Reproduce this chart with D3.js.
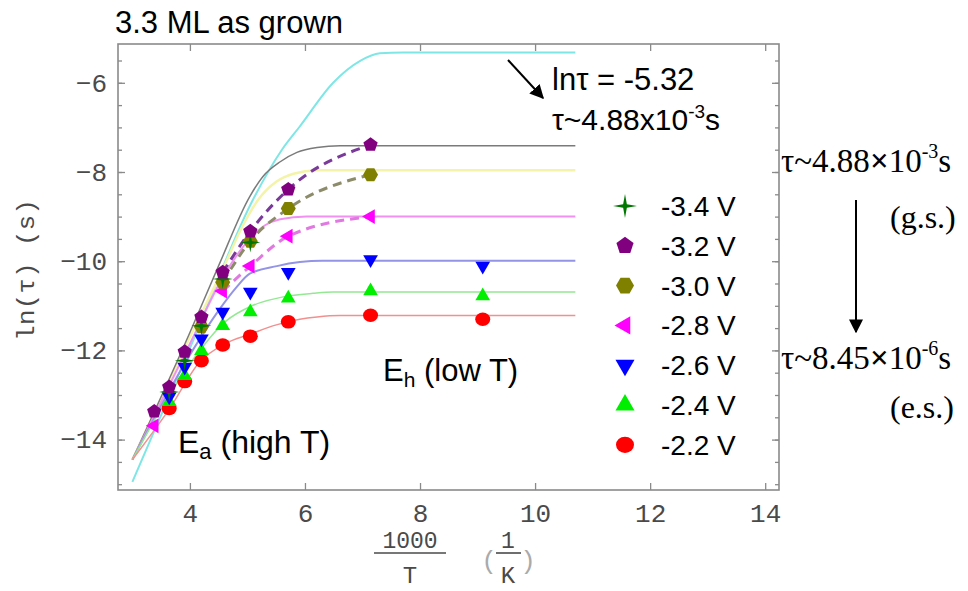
<!DOCTYPE html>
<html><head><meta charset="utf-8">
<script src="https://cdn.jsdelivr.net/npm/d3@7"></script>
<style>
html,body{margin:0;padding:0;background:#fff;}
svg{display:block;}
</style>
</head><body>
<svg id="chart" width="968" height="591"></svg>
<script>
// ---------------- DATA ----------------
const xVals = [3.38, 3.64, 3.91, 4.20, 4.57, 5.05, 5.71, 7.14, 9.09];
const seriesLabels = ["-3.4 V", "-3.2 V", "-3.0 V", "-2.8 V", "-2.6 V", "-2.4 V", "-2.2 V"];
const v34 = [null, -12.93, -12.23, -11.45, -10.40, -9.58, null, null, null];
const v32 = [-13.37, -12.82, -12.03, -11.25, -10.25, -9.33, -8.39, -7.39, null];
const v30 = [null, null, null, -11.47, -10.47, -9.55, -8.82, -8.06, null];
const v28 = [-13.69, null, null, null, -10.67, -10.11, -9.44, -9.00, null];
const v26 = [null, -13.04, -12.37, -11.74, -11.14, -10.69, -10.25, -9.96, -10.11];
const v24 = [null, -13.15, -12.57, -12.01, -11.45, -11.14, -10.83, -10.67, -10.78];
const v22 = [null, -13.30, -12.70, -12.23, -11.88, -11.68, -11.36, -11.21, -11.30];

// fitted curves, [1000/T, ln(tau)]
const fitCyan   = [[3.0,-14.95],[4.0,-11.95],[5.1,-8.61],[5.6,-7.5],[5.91,-6.98],[6.49,-6.0],[6.96,-5.51],[7.3,-5.34],[7.7,-5.32],[10.7,-5.32]];
const fitGray   = [[3.0,-14.45],[4.0,-11.6],[4.5,-10.1],[5.04,-8.55],[5.27,-8.1],[5.57,-7.77],[5.86,-7.56],[6.21,-7.45],[6.61,-7.41],[10.7,-7.41]];
const fitYellow = [[3.0,-14.45],[4.0,-11.7],[4.6,-10.1],[4.9,-9.25],[5.2,-8.6],[5.5,-8.22],[5.8,-8.04],[6.2,-7.96],[10.7,-7.96]];
const fitPink   = [[3.0,-14.45],[4.0,-11.85],[4.6,-10.3],[5.04,-9.5],[5.3,-9.2],[5.57,-9.06],[6.03,-9.0],[10.7,-9.0]];
const fitBlue   = [[3.0,-14.45],[4.0,-12.1],[4.52,-11.07],[4.8,-10.6],[5.04,-10.28],[5.51,-10.11],[5.91,-10.02],[6.3,-9.99],[10.7,-9.99]];
const fitGreen  = [[3.0,-14.45],[4.0,-12.3],[4.61,-11.36],[5.08,-11.0],[5.62,-10.80],[6.14,-10.72],[6.49,-10.69],[10.7,-10.69]];
const fitRed    = [[3.0,-14.45],[3.65,-13.3],[4.17,-12.26],[4.61,-11.85],[5.06,-11.63],[5.44,-11.45],[5.91,-11.30],[6.21,-11.25],[6.61,-11.22],[10.7,-11.22]];

const xTicks = [4, 6, 8, 10, 12, 14];
const yTicks = [-6, -8, -10, -12, -14];
const yMinorTicks = d3.range(-15, -5.2, 0.5);

// ---------------- SETUP ----------------
const svg = d3.select("#chart");
const x = d3.scaleLinear().domain([2.75, 14.24]).range([118, 779]);
const y = d3.scaleLinear().domain([-15.13, -5.13]).range([490, 44]);
const frameCol = "#8a8a8a";
const tickFont = "'Liberation Mono', 'DejaVu Sans Mono', monospace";
const sans = "'Liberation Sans', Arial, sans-serif";
const serif = "'Liberation Serif', 'Times New Roman', serif";

function poly(n, r, rot) {
  const pts = d3.range(n).map(i => {
    const a = rot + i * 2 * Math.PI / n;
    return [r * Math.cos(a), r * Math.sin(a)];
  });
  return "M" + pts.map(p => p.join(",")).join("L") + "Z";
}
const shapes = {
  star: r => {
    const pts = [];
    for (let i = 0; i < 8; i++) {
      const a = -Math.PI / 2 + i * Math.PI / 4;
      const rr = i % 2 === 0 ? r : r * 0.22;
      pts.push([rr * Math.cos(a), rr * Math.sin(a)]);
    }
    return "M" + pts.map(p => p.join(",")).join("L") + "Z";
  },
  pentagon: r => poly(5, r, -Math.PI / 2),
  hexagon: r => poly(6, r, 0),
  triLeft: r => poly(3, r, Math.PI),
  triDown: r => poly(3, r, Math.PI / 2),
  triUp: r => poly(3, r, -Math.PI / 2),
  circle: r => `M${-r},0A${r},${r * 0.9} 0 1,0 ${r},0A${r},${r * 0.9} 0 1,0 ${-r},0Z`
};

const seriesDefs = [
  { vals: v22, color: "#ff0000", shape: "circle", r: 7.5, legendR: 9 },
  { vals: v24, color: "#00ee00", shape: "triUp", r: 8.5, legendR: 11 },
  { vals: v26, color: "#0000ff", shape: "triDown", r: 8.5, legendR: 11 },
  { vals: v28, color: "#ff00ff", shape: "triLeft", r: 8.5, legendR: 10.5 },
  { vals: v30, color: "#808000", shape: "hexagon", r: 7.5, legendR: 9 },
  { vals: v34, color: "#007800", shape: "star", r: 10, legendR: 12 },
  { vals: v32, color: "#800080", shape: "pentagon", r: 7.5, legendR: 9 }
];
const legendOrder = [5, 6, 4, 3, 2, 1, 0];

// ---------------- AXES / FRAME ----------------
const gAx = svg.append("g");
function styleAxis(g) {
  g.select(".domain").remove();
  g.selectAll(".tick line").attr("stroke", frameCol).attr("stroke-width", 1.3);
  g.selectAll(".tick text").attr("font-family", tickFont).attr("font-size", 26).attr("fill", "#4a4a4a");
}
const fmt = d => d < 0 ? "\u2212" + Math.abs(d) : String(d);
gAx.append("g").attr("transform", "translate(0,490)")
  .call(d3.axisBottom(x).tickValues(xTicks).tickFormat(fmt).tickSize(-7).tickPadding(14)).call(styleAxis);
gAx.append("g").attr("transform", "translate(0,44)")
  .call(d3.axisTop(x).tickValues(xTicks).tickFormat("").tickSize(-7)).call(styleAxis);
gAx.append("g").attr("transform", "translate(118,0)")
  .call(d3.axisLeft(y).tickValues(yTicks).tickFormat(fmt).tickSize(-7).tickPadding(11)).call(styleAxis);
gAx.append("g").attr("transform", "translate(118,0)")
  .call(d3.axisLeft(y).tickValues(yMinorTicks).tickFormat("").tickSize(-4)).call(styleAxis);
gAx.append("g").attr("transform", "translate(779,0)")
  .call(d3.axisRight(y).tickValues(yTicks).tickFormat("").tickSize(-7)).call(styleAxis);
gAx.append("g").attr("transform", "translate(779,0)")
  .call(d3.axisRight(y).tickValues(yMinorTicks).tickFormat("").tickSize(-4)).call(styleAxis);
svg.append("rect").attr("x", x(2.75)).attr("y", y(-5.13))
  .attr("width", x(14.24) - x(2.75)).attr("height", y(-15.13) - y(-5.13))
  .attr("fill", "none").attr("stroke", frameCol).attr("stroke-width", 1.6);

// axis titles
svg.append("text").attr("transform", "translate(34,270) rotate(-90)")
  .attr("text-anchor", "middle").attr("font-family", tickFont).attr("font-size", 24).attr("fill", "#4a4a4a")
  .attr("textLength", 142).attr("lengthAdjust", "spacingAndGlyphs")
  .text("ln(\u03c4) (s)");
const xl = svg.append("g").attr("font-family", tickFont).attr("fill", "#4a4a4a").attr("text-anchor", "middle");
xl.append("text").attr("x", 410).attr("y", 548).attr("font-size", 23).text("1000");
xl.append("line").attr("x1", 374).attr("x2", 446).attr("y1", 553).attr("y2", 553).attr("stroke", "#4a4a4a").attr("stroke-width", 1.6);
xl.append("text").attr("x", 410).attr("y", 583).attr("font-size", 24).text("T");
xl.append("text").attr("x", 489).attr("y", 569).attr("font-size", 26).attr("fill", "#aaa").text("(");
xl.append("text").attr("x", 508).attr("y", 548).attr("font-size", 23).text("1");
xl.append("line").attr("x1", 496).attr("x2", 521).attr("y1", 553).attr("y2", 553).attr("stroke", "#4a4a4a").attr("stroke-width", 1.6);
xl.append("text").attr("x", 508).attr("y", 583).attr("font-size", 24).text("K");
xl.append("text").attr("x", 528).attr("y", 569).attr("font-size", 26).attr("fill", "#aaa").text(")");

// ---------------- FIT CURVES ----------------
const line = d3.line().x(d => x(d[0])).y(d => y(d[1])).curve(d3.curveMonotoneX);
const fits = [
  { d: fitCyan, c: "#7fe6e6", w: 2 },
  { d: fitYellow, c: "#f4f4a8", w: 2.5 },
  { d: fitGray, c: "#7a7a7a", w: 1.5 },
  { d: fitPink, c: "#f290f2", w: 2 },
  { d: fitBlue, c: "#9494e6", w: 2 },
  { d: fitGreen, c: "#94e894", w: 1.5 },
  { d: fitRed, c: "#f29090", w: 1.5 }
];
svg.append("g").selectAll("path").data(fits).join("path")
  .attr("d", f => line(f.d)).attr("fill", "none")
  .attr("stroke", f => f.c).attr("stroke-width", f => f.w);

const dashed = [
  { vals: v28, c: "#e07ae0" },
  { vals: v30, c: "#8c8c6a" },
  { vals: v32, c: "#7a3a9a" }
];
svg.append("g").selectAll("path").data(dashed).join("path")
  .attr("d", s => line(xVals.map((xv, i) => [xv, s.vals[i]]).filter(p => p[1] !== null && p[0] >= 4.5)))
  .attr("fill", "none").attr("stroke", s => s.c).attr("stroke-width", 3).attr("stroke-dasharray", "9,6");

// ---------------- MARKERS ----------------
const gm = svg.append("g");
seriesDefs.forEach(s => {
  const pts = xVals.map((xv, i) => [xv, s.vals[i]]).filter(p => p[1] !== null);
  gm.append("g").selectAll("path").data(pts).join("path")
    .attr("transform", p => `translate(${x(p[0])},${y(p[1])})`)
    .attr("d", shapes[s.shape](s.r)).attr("fill", s.color);
});

// ---------------- LEGEND ----------------
const lg = svg.append("g");
legendOrder.forEach((si, k) => {
  const s = seriesDefs[si];
  const cy = 206 + k * 39.8;
  lg.append("path").attr("transform", `translate(625,${cy})`).attr("d", shapes[s.shape](s.legendR)).attr("fill", s.color);
  lg.append("text").attr("x", 661).attr("y", cy + 10).attr("font-family", sans).attr("font-size", 28)
    .attr("fill", "#000").text(seriesLabels[k]);
});

// ---------------- ANNOTATIONS ----------------
const defs = svg.append("defs");
defs.append("marker").attr("id", "ah").attr("viewBox", "0 0 10 10").attr("refX", 9).attr("refY", 5)
  .attr("markerWidth", 7).attr("markerHeight", 7).attr("markerUnits", "strokeWidth").attr("orient", "auto")
  .append("path").attr("d", "M0,0L10,5L0,10Z").attr("fill", "#000");

svg.append("text").attr("x", 115).attr("y", 33).attr("font-family", sans).attr("font-size", 31)
  .attr("fill", "#000").text("3.3 ML as grown");

svg.append("line").attr("x1", 508).attr("y1", 60).attr("x2", 543).attr("y2", 98)
  .attr("stroke", "#000").attr("stroke-width", 2).attr("marker-end", "url(#ah)");
svg.append("text").attr("x", 552).attr("y", 90).attr("font-family", sans).attr("font-size", 31)
  .text("ln\u03c4 = -5.32");
const t2 = svg.append("text").attr("x", 552).attr("y", 130).attr("font-family", sans).attr("font-size", 30);
t2.append("tspan").text("\u03c4~4.88x10");
t2.append("tspan").attr("dy", -12).attr("font-size", 19).text("-3");
t2.append("tspan").attr("dy", 12).text("s");

svg.append("text").attr("x", 178).attr("y", 453).attr("font-family", sans).attr("font-size", 32)
  .call(t => { t.append("tspan").text("E"); t.append("tspan").attr("dy", 6).attr("font-size", 22).text("a");
               t.append("tspan").attr("dy", -6).text(" (high T)"); });
svg.append("text").attr("x", 383).attr("y", 381).attr("font-family", sans).attr("font-size", 31)
  .call(t => { t.append("tspan").text("E"); t.append("tspan").attr("dy", 6).attr("font-size", 21).text("h");
               t.append("tspan").attr("dy", -6).text(" (low T)"); });

function tauText(xp, yp, mant, expo) {
  const t = svg.append("text").attr("x", xp).attr("y", yp).attr("font-family", serif).attr("font-size", 33).attr("fill", "#000");
  t.append("tspan").text("\u03c4~" + mant);
  t.append("tspan").attr("font-weight", "bold").text("\u00d7");
  t.append("tspan").text("10");
  t.append("tspan").attr("dy", -14).attr("font-size", 20).text(expo);
  t.append("tspan").attr("dy", 14).text("s");
}
tauText(781, 172, "4.88", "-3");
svg.append("text").attr("x", 890).attr("y", 228).attr("font-family", serif).attr("font-size", 32).text("(g.s.)");
svg.append("line").attr("x1", 856).attr("y1", 200).attr("x2", 856).attr("y2", 332)
  .attr("stroke", "#000").attr("stroke-width", 2).attr("marker-end", "url(#ah)");
tauText(781, 369, "8.45", "-6");
svg.append("text").attr("x", 890).attr("y", 418).attr("font-family", serif).attr("font-size", 32).text("(e.s.)");
</script>
</body></html>
